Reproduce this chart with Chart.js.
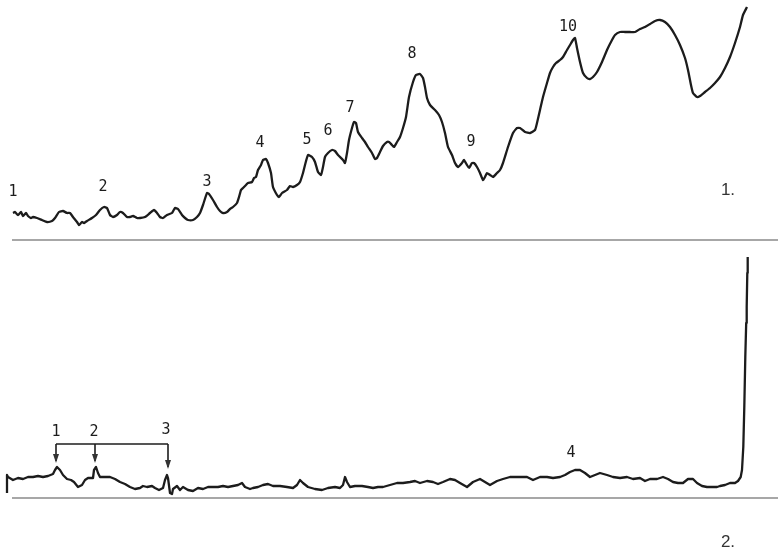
<!DOCTYPE html>
<html>
<head>
<meta charset="utf-8">
<script src="https://cdn.jsdelivr.net/npm/chart.js@4.4.1/dist/chart.umd.min.js"></script>
<style>
    html, body { margin: 0; padding: 0; background: #ffffff; }
    #wrap { position: relative; width: 778px; height: 551px; }
    #wrap canvas { position: absolute; left: 0; }
    #trace1 { top: 0; }
    #trace2 { top: 250px; }
</style>
</head>
<body>
<div id="wrap">
    <canvas id="trace1" width="778" height="250"></canvas>
    <canvas id="trace2" width="778" height="301"></canvas>
</div>
<script>
// time axis in min, detector signal in mV
const timeRange = [0, 77.8];
const baselineRange = [1.2, 77.8];

// trace 1: [time, signal]
const trace1 = [
    [1.3,2.7],[1.5,2.8],[1.8,2.5],[2.1,2.8],[2.3,2.4],[2.6,2.7],[2.8,2.4],[3.1,2.2],[3.3,2.3],[3.7,2.2],
    [4.2,2.0],[4.7,1.8],[5.2,1.9],[5.5,2.2],[5.9,2.8],[6.3,2.9],[6.7,2.7],[7.0,2.7],[7.3,2.3],[7.7,1.8],
    [7.9,1.5],[8.2,1.8],[8.4,1.7],[8.7,1.9],[9.2,2.2],[9.6,2.5],[10.0,3.0],[10.4,3.3],[10.7,3.2],[11.0,2.5],
    [11.3,2.3],[11.7,2.5],[12.0,2.8],[12.3,2.7],[12.7,2.3],[13.0,2.3],[13.3,2.4],[13.7,2.2],[14.0,2.2],[14.5,2.3],
    [15.0,2.7],[15.4,3.0],[15.7,2.7],[16.0,2.3],[16.3,2.2],[16.7,2.5],[17.2,2.7],[17.5,3.2],[17.8,3.1],[18.2,2.5],
    [18.5,2.2],[18.8,2.0],[19.3,2.0],[19.7,2.3],[20.0,2.7],[20.3,3.5],[20.7,4.7],[20.9,4.6],[21.3,4.0],[21.7,3.3],
    [22.0,2.9],[22.3,2.7],[22.7,2.8],[23.0,3.1],[23.3,3.3],[23.7,3.7],[23.9,4.3],[24.1,5.0],[24.3,5.2],[24.6,5.5],
    [24.8,5.7],[25.2,5.8],[25.4,6.2],[25.6,6.3],[25.8,7.0],[26.1,7.5],[26.3,8.0],[26.6,8.1],[26.8,7.7],[27.1,6.7],
    [27.3,5.3],[27.7,4.5],[27.9,4.3],[28.2,4.7],[28.7,5.0],[29.0,5.4],[29.3,5.3],[29.7,5.5],[30.0,5.8],[30.3,6.7],
    [30.5,7.5],[30.8,8.5],[31.2,8.3],[31.5,7.8],[31.8,6.8],[32.1,6.5],[32.3,7.3],[32.5,8.3],[32.8,8.7],[33.2,9.0],
    [33.5,8.9],[33.8,8.5],[34.3,8.0],[34.5,7.7],[34.7,8.7],[34.9,10.0],[35.2,11.2],[35.4,11.8],[35.6,11.7],[35.8,10.8],
    [36.2,10.2],[36.5,9.8],[36.8,9.3],[37.2,8.7],[37.5,8.1],[37.7,8.2],[38.0,8.8],[38.3,9.4],[38.7,9.8],[38.9,9.8],
    [39.2,9.5],[39.4,9.3],[39.7,9.8],[40.0,10.3],[40.3,11.2],[40.6,12.3],[40.9,14.3],[41.3,15.8],[41.6,16.5],[42.0,16.6],
    [42.3,16.2],[42.5,15.3],[42.7,14.2],[43.0,13.5],[43.5,13.0],[43.9,12.5],[44.2,11.8],[44.5,10.7],[44.8,9.3],[45.2,8.5],
    [45.5,7.7],[45.8,7.3],[46.2,7.7],[46.4,8.0],[46.7,7.5],[46.9,7.2],[47.2,7.7],[47.4,7.7],[47.7,7.3],[48.0,6.7],
    [48.3,6.0],[48.5,6.3],[48.7,6.7],[49.0,6.5],[49.3,6.3],[49.7,6.7],[50.0,7.0],[50.3,7.7],[50.8,9.3],[51.3,10.7],
    [51.7,11.2],[52.0,11.2],[52.5,10.8],[53.0,10.7],[53.5,11.0],[53.7,11.7],[54.0,13.0],[54.3,14.3],[54.7,15.7],[55.0,16.7],
    [55.3,17.3],[55.6,17.7],[56.0,18.0],[56.3,18.3],[56.7,19.0],[57.0,19.5],[57.3,20.0],[57.5,20.2],[57.7,19.2],[58.0,17.8],
    [58.3,16.7],[58.7,16.2],[59.0,16.1],[59.3,16.3],[59.7,16.8],[60.2,17.8],[60.7,19.0],[61.2,20.0],[61.5,20.5],[62.0,20.8],
    [62.5,20.8],[63.0,20.8],[63.5,20.8],[64.0,21.1],[64.5,21.3],[65.0,21.6],[65.5,21.9],[66.0,22.0],[66.5,21.8],[67.0,21.3],
    [67.5,20.5],[68.0,19.5],[68.5,18.2],[68.8,17.0],[69.1,15.5],[69.3,14.7],[69.7,14.3],[70.0,14.4],[70.5,14.8],[71.0,15.2],
    [71.5,15.7],[72.0,16.3],[72.5,17.2],[73.0,18.3],[73.5,19.7],[74.0,21.3],[74.3,22.5],[74.7,23.3]
];

// trace 2: [time, signal]
const trace2 = [
    [0.7,0.5],[0.7,2.3],[0.8,2.1],[1.3,1.8],[1.8,2.0],[2.3,1.9],[2.8,2.1],[3.3,2.1],[3.8,2.2],[4.3,2.1],
    [4.8,2.2],[5.3,2.4],[5.5,2.8],[5.7,3.1],[6.0,2.8],[6.3,2.3],[6.7,1.9],[7.1,1.8],[7.4,1.6],[7.8,1.1],
    [8.2,1.3],[8.5,1.8],[8.8,2.0],[9.3,2.0],[9.4,2.8],[9.6,3.1],[9.8,2.5],[10.0,2.1],[10.5,2.1],[11.0,2.1],
    [11.5,1.9],[12.0,1.6],[12.5,1.4],[13.0,1.1],[13.5,0.9],[14.0,1.0],[14.3,1.2],[14.7,1.1],[15.2,1.2],[15.5,1.0],
    [15.9,0.8],[16.3,1.0],[16.5,1.8],[16.7,2.3],[16.8,2.0],[17.0,0.5],[17.2,0.4],[17.3,0.9],[17.7,1.2],[18.0,0.8],
    [18.3,1.1],[18.8,0.8],[19.3,0.7],[19.8,1.0],[20.3,0.9],[20.8,1.1],[21.3,1.1],[21.8,1.1],[22.3,1.2],[22.8,1.1],
    [23.3,1.2],[23.8,1.3],[24.2,1.5],[24.5,1.1],[25.0,0.9],[25.3,1.0],[25.8,1.1],[26.3,1.3],[26.8,1.4],[27.3,1.2],
    [28.0,1.2],[28.7,1.1],[29.3,1.0],[29.7,1.3],[30.0,1.8],[30.3,1.5],[30.8,1.1],[31.5,0.9],[32.2,0.8],[32.8,1.0],
    [33.5,1.1],[34.0,1.0],[34.3,1.3],[34.5,2.1],[34.7,1.6],[35.0,1.1],[35.5,1.2],[36.2,1.2],[36.8,1.1],[37.3,1.0],
    [37.8,1.1],[38.3,1.1],[39.0,1.3],[39.7,1.5],[40.3,1.5],[41.0,1.6],[41.5,1.7],[42.0,1.5],[42.7,1.7],[43.3,1.6],
    [43.8,1.4],[44.3,1.6],[45.0,1.9],[45.5,1.8],[46.0,1.5],[46.7,1.1],[47.3,1.6],[48.0,1.9],[48.5,1.6],[49.0,1.3],
    [49.7,1.7],[50.3,1.9],[51.0,2.1],[51.3,2.1],[52.0,2.1],[52.7,2.1],[53.3,1.8],[54.0,2.1],[54.7,2.1],[55.3,2.0],
    [56.0,2.1],[56.5,2.3],[57.0,2.6],[57.5,2.8],[58.0,2.8],[58.5,2.5],[59.0,2.1],[59.5,2.3],[60.0,2.5],[60.7,2.3],
    [61.3,2.1],[62.0,2.0],[62.7,2.1],[63.3,1.9],[64.0,2.0],[64.5,1.7],[65.0,1.9],[65.7,1.9],[66.3,2.1],[66.8,1.9],
    [67.3,1.6],[67.8,1.5],[68.3,1.5],[68.8,1.9],[69.3,1.9],[69.7,1.5],[70.2,1.2],[70.7,1.1],[71.2,1.1],[71.7,1.1],
    [72.0,1.2],[72.5,1.3],[73.0,1.5],[73.5,1.5],[73.8,1.7],[74.07,2.1],[74.2,2.8],[74.33,5.1],[74.43,9.1],[74.53,14.1],
    [74.62,17.5],[74.67,19.1],[74.73,22.5],[74.77,24.1]
];

// peak numbers: [text, time, signal]
const peaks1 = [
    ['1',1.3,4.75],['2',10.3,5.25],['3',20.7,5.75],['4',26.0,9.7],['5',30.7,9.95],
    ['6',32.8,10.9],['7',35.0,13.2],['8',41.2,18.6],['9',47.1,9.75],['10',56.8,21.3]
];
const peaks2 = [['1',5.6,6.6],['2',9.4,6.6],['3',16.6,6.8],['4',57.1,4.5]];

// bracket joining peaks 1-3 of trace 2
const bracketTimes = [5.6, 9.5, 16.8];
const bracketTips = [3.5, 3.5, 2.9];
const bracketLevel = 5.4;

const panelNames = [['1.',72.8,5.0],['2.',72.8,-4.4]];

const inkColor = '#1c1c1c';
const ruleColor = '#8a8a8a';

const labelPlugin = {
    id: 'peakLabels',
    afterDatasetsDraw(chart, args, opts) {
        const ctx = chart.ctx;
        const xs = chart.scales.x, ys = chart.scales.y;
        ctx.save();
        ctx.textAlign = 'center';
        ctx.textBaseline = 'middle';
        ctx.fillStyle = inkColor;
        ctx.font = '15px "DejaVu Sans Mono"';
        (opts.peaks || []).forEach(([t, x, y]) => {
            ctx.fillText(t, xs.getPixelForValue(x), ys.getPixelForValue(y));
        });
        ctx.fillStyle = '#333333';
        ctx.font = '17px "Liberation Sans"';
        const [name, nx, ny] = opts.panel;
        ctx.fillText(name, xs.getPixelForValue(nx), ys.getPixelForValue(ny));

        if (opts.bracket) {
            const yb = ys.getPixelForValue(bracketLevel);
            ctx.strokeStyle = inkColor;
            ctx.lineWidth = 1.6;
            ctx.beginPath();
            ctx.moveTo(xs.getPixelForValue(bracketTimes[0]), yb);
            ctx.lineTo(xs.getPixelForValue(bracketTimes[bracketTimes.length - 1]), yb);
            ctx.stroke();
            bracketTimes.forEach((bt, i) => {
                const px = xs.getPixelForValue(bt);
                const tip = ys.getPixelForValue(bracketTips[i]);
                ctx.beginPath();
                ctx.moveTo(px, yb);
                ctx.lineTo(px, tip - 2);
                ctx.stroke();
                ctx.beginPath();
                ctx.moveTo(px - 3, tip - 9);
                ctx.lineTo(px + 3, tip - 9);
                ctx.lineTo(px, tip);
                ctx.closePath();
                ctx.fill();
            });
        }
        ctx.restore();
    }
};

function makeTrace(id, points, yMax, bottomPad, peaks, panel, bracket, tension) {
    new Chart(document.getElementById(id), {
        type: 'scatter',
        data: {
            datasets: [
                {
                    data: points.map(([x, y]) => ({ x, y })),
                    showLine: true,
                    borderColor: inkColor,
                    borderWidth: 2.3,
                    borderJoinStyle: 'round',
                    pointRadius: 0,
                    tension: tension,
                    clip: false,
                },
                {
                    // zero line under the trace
                    data: baselineRange.map((x) => ({ x, y: 0 })),
                    showLine: true,
                    borderColor: ruleColor,
                    borderWidth: 1.5,
                    pointRadius: 0,
                    clip: false,
                },
            ],
        },
        plugins: [labelPlugin],
        options: {
            responsive: false,
            animation: false,
            layout: { padding: { top: 0, bottom: bottomPad, left: 0, right: 0 } },
            plugins: {
                legend: { display: false },
                tooltip: { enabled: false },
                peakLabels: { peaks, panel, bracket },
            },
            scales: {
                x: { type: 'linear', min: timeRange[0], max: timeRange[1], display: false },
                y: { min: 0, max: yMax, display: false },
            },
        },
    });
}

makeTrace('trace1', trace1, 24, 10, peaks1, panelNames[0], false, 0.15);
makeTrace('trace2', trace2, 24.8, 53, peaks2, panelNames[1], true, 0);
</script>
</body>
</html>
